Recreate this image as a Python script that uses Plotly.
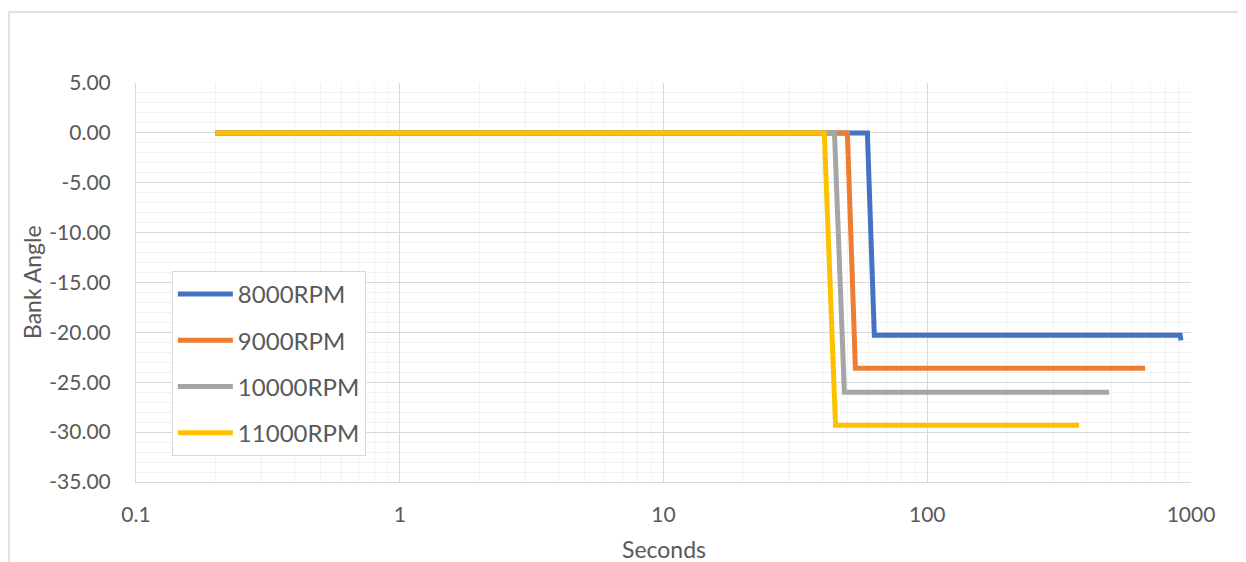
import plotly.graph_objects as go

# ---- data ----
names = ["8000RPM", "9000RPM", "10000RPM", "11000RPM"]
colors = ["#4472C4", "#ED7D31", "#A5A5A5", "#FFC000"]

t_8000 = [0.2, 59.3, 63.0, 910, 916]
a_8000 = [0.0, 0.0, -20.3, -20.3, -20.8]

t_9000 = [0.2, 49.8, 53.4, 670]
a_9000 = [0.0, 0.0, -23.6, -23.6]

t_10000 = [0.2, 44.5, 48.5, 489]
a_10000 = [0.0, 0.0, -26.0, -26.0]

t_11000 = [0.2, 40.7, 44.9, 376]
a_11000 = [0.0, 0.0, -29.3, -29.3]

x_tickvals = [0.1, 1, 10, 100, 1000]
x_ticktext = ["0.1", "1", "10", "100", "1000"]
y_tickvals = [5, 0, -5, -10, -15, -20, -25, -30, -35]
y_ticktext = ["5.00", "0.00", "-5.00", "-10.00", "-15.00", "-20.00", "-25.00", "-30.00", "-35.00"]

series_t = [t_8000, t_9000, t_10000, t_11000]
series_a = [a_8000, a_9000, a_10000, a_11000]

TXT = "#595959"
FONT = "Lato, 'Open Sans', sans-serif"

fig = go.Figure()
for i, (n, c, t, a) in enumerate(zip(names, colors, series_t, series_a)):
    fig.add_trace(go.Scatter(
        x=t, y=a, mode="lines", name=n, legendgroup=n,
        line=dict(color=c, width=5),
    ))

fig.update_layout(
    width=1246, height=562,
    margin=dict(l=128, r=63, t=75, b=88),
    paper_bgcolor="white", plot_bgcolor="white",
    font=dict(family=FONT, color=TXT, size=21),
    showlegend=True,
    legend=dict(
        x=0.034, y=0.529, xanchor="left", yanchor="top",
        bgcolor="white", bordercolor="#D9D9D9", borderwidth=1,
        font=dict(size=24, color=TXT, family=FONT),
        itemwidth=55, tracegroupgap=12, traceorder="grouped",
    ),
    xaxis=dict(
        type="log", range=[-1, 3],
        tickvals=x_tickvals, ticktext=x_ticktext,
        showgrid=True, gridcolor="#D9D9D9", gridwidth=1,
        minor=dict(dtick="D1", showgrid=True, gridcolor="#F2F2F2", gridwidth=1, ticks=""),
        showline=True, linecolor="#D9D9D9", linewidth=1,
        ticks="", ticklabelstandoff=14,
        tickfont=dict(size=21, color=TXT),
        zeroline=False,
    ),
    yaxis=dict(
        range=[-35, 5],
        tickvals=y_tickvals, ticktext=y_ticktext,
        showgrid=True, gridcolor="#D9D9D9", gridwidth=1,
        minor=dict(dtick=1, showgrid=True, gridcolor="#F2F2F2", gridwidth=1, ticks=""),
        showline=True, linecolor="#D9D9D9", linewidth=1,
        ticks="", ticklabelstandoff=20,
        tickfont=dict(size=21, color=TXT),
        zeroline=False,
    ),
    annotations=[
        dict(text="Seconds", x=0.5, y=-0.168, xref="paper", yref="paper",
             xanchor="center", yanchor="middle", showarrow=False,
             font=dict(size=23, color=TXT, family=FONT)),
        dict(text="Bank Angle", x=-0.099, y=0.5, xref="paper", yref="paper",
             xanchor="center", yanchor="middle", showarrow=False, textangle=-90,
             font=dict(size=23, color=TXT, family=FONT)),
    ],
    shapes=[
        dict(type="rect", xref="paper", yref="paper",
             x0=-0.1204, x1=1.3, y0=-0.4, y1=1.178,
             line=dict(color="#D9D9D9", width=1.5), fillcolor="rgba(0,0,0,0)",
             layer="below"),
    ],
)

fig.write_html("out.html")
